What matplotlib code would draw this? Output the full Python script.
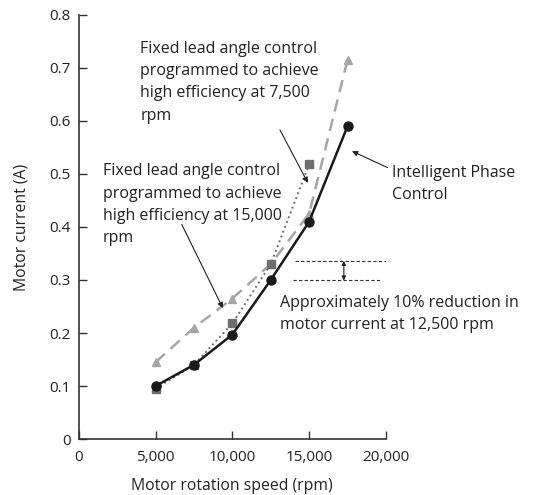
import matplotlib
matplotlib.use("Agg")
import matplotlib.pyplot as plt
from matplotlib.ticker import FuncFormatter

plt.rcParams['font.family'] = ['Open Sans', 'DejaVu Sans']

# Data
speed = [5000, 7500, 10000, 12500, 15000, 17500]
ipc_current = [0.100, 0.140, 0.197, 0.300, 0.410, 0.590]
fixed7500_speed = [5000, 7500, 10000, 12500, 15000]
fixed7500_current = [0.095, 0.140, 0.218, 0.330, 0.518]
fixed15000_current = [0.145, 0.210, 0.265, 0.330, 0.425, 0.715]

x_ticks = [0, 5000, 10000, 15000, 20000]
y_ticks = [0, 0.1, 0.2, 0.3, 0.4, 0.5, 0.6, 0.7, 0.8]

fig = plt.figure(figsize=(5.36, 4.95), dpi=100)
ax = fig.add_axes([0.147, 0.113, 0.573, 0.857])

ax.plot(speed, fixed15000_current, color='#a6a6a6', linestyle=(0, (5, 3)), linewidth=1.8,
        marker='^', markersize=6, zorder=2)
ax.plot(fixed7500_speed, fixed7500_current, color='#6e6e6e', linestyle=':', linewidth=1.4,
        marker='s', markersize=6, zorder=3)
ax.plot(speed, ipc_current, color='#1a1a1a', linestyle='-', linewidth=1.8,
        marker='o', markersize=6.5, zorder=4)

# reduction indicator at 12,500 rpm
ax.plot([14070, 20000], [0.335, 0.335], color='#333333', linestyle=(0, (3, 2)), linewidth=0.8)
ax.plot([13940, 19600], [0.300, 0.300], color='#333333', linestyle=(0, (3, 2)), linewidth=0.8)
ax.annotate('', xy=(17260, 0.336), xytext=(17260, 0.299),
            arrowprops=dict(arrowstyle='<|-|>', color='#222222', lw=0.8,
                            mutation_scale=6, shrinkA=0, shrinkB=0))

fs = 11.5
ls = 1.52
arrow_kw = dict(arrowstyle='-|>', color='#222222', lw=0.8, mutation_scale=8,
                shrinkA=0, shrinkB=0)
ax.annotate('', xy=(14920, 0.483), xytext=(13100, 0.583), arrowprops=arrow_kw)
ax.text(4000, 0.751, 'Fixed lead angle control\nprogrammed to achieve\nhigh efficiency at 7,500\nrpm',
        fontsize=fs, va='top', ha='left', linespacing=ls, color='#222222')
ax.annotate('', xy=(9380, 0.247), xytext=(6700, 0.405), arrowprops=arrow_kw)
ax.text(1550, 0.52, 'Fixed lead angle control\nprogrammed to achieve\nhigh efficiency at 15,000\nrpm',
        fontsize=fs, va='top', ha='left', linespacing=ls, color='#222222')
ax.annotate('', xy=(17790, 0.543), xytext=(20100, 0.512), arrowprops=arrow_kw,
            annotation_clip=False)
ax.text(20400, 0.517, 'Intelligent Phase\nControl', fontsize=fs, va='top', ha='left',
        linespacing=ls, color='#222222', clip_on=False)
ax.text(13100, 0.272, 'Approximately 10% reduction in\nmotor current at 12,500 rpm',
        fontsize=fs, va='top', ha='left', linespacing=ls, color='#222222', clip_on=False)

ax.set_xlim(0, 20000)
ax.set_ylim(0, 0.8)
ax.set_xticks(x_ticks)
ax.set_yticks(y_ticks)
ax.xaxis.set_major_formatter(FuncFormatter(lambda v, p: f"{int(v):,}"))
ax.yaxis.set_major_formatter(FuncFormatter(lambda v, p: "0" if v == 0 else f"{v:.1f}"))
ax.tick_params(direction='in', length=6, width=1, labelsize=11, colors='#333333',
               labelcolor='#222222')
ax.tick_params(axis='x', pad=8)
ax.tick_params(axis='y', pad=6)
ax.spines['top'].set_visible(False)
ax.spines['right'].set_visible(False)
for s in ['left', 'bottom']:
    ax.spines[s].set_color('#333333')
    ax.spines[s].set_linewidth(1.2)

ax.set_xlabel('Motor rotation speed (rpm)', fontsize=11.3, labelpad=9, color='#222222')
ax.set_ylabel('Motor current (A)', fontsize=11.3, labelpad=14, color='#222222')

fig.savefig('out.png', dpi=100)
